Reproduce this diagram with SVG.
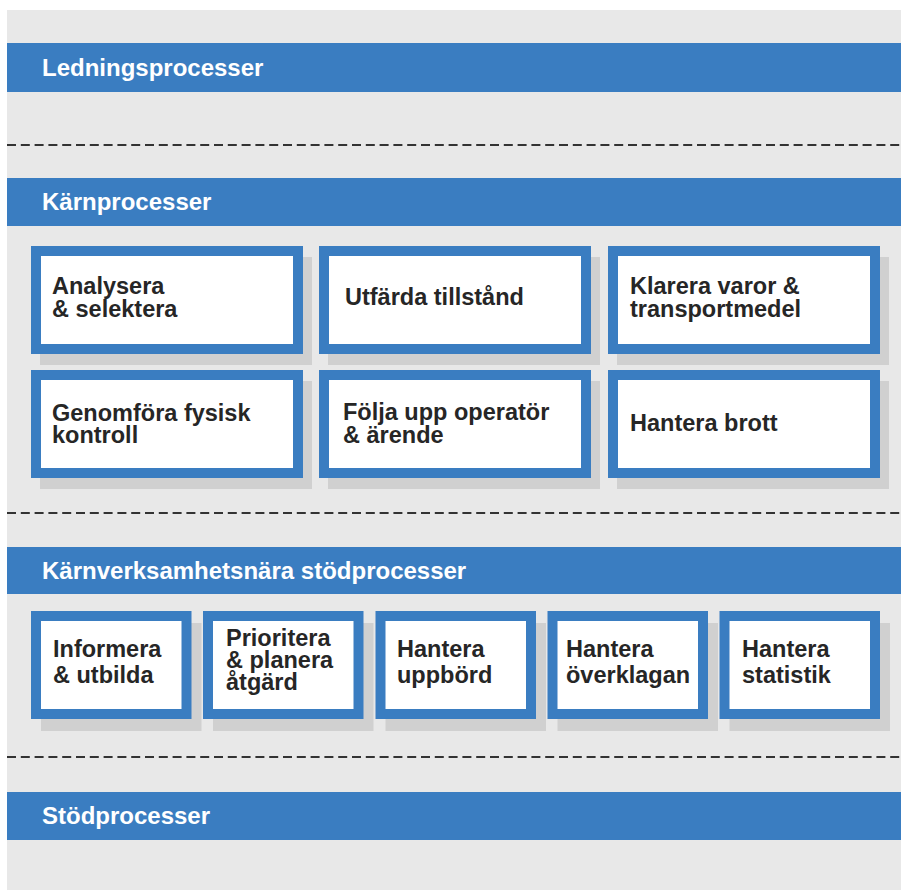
<svg xmlns="http://www.w3.org/2000/svg" width="901" height="890" viewBox="0 0 901 890">
<style>
.bg{fill:#e8e8e8}
.bar{fill:#3a7dc1}
.barEdge{fill:none;stroke:#7fb0dd;stroke-width:1}
.ht{font-family:"Liberation Sans",Arial,sans-serif;font-weight:bold;font-size:24px;fill:#ffffff}
.sh{fill:#d0d0d0}
.box{fill:#ffffff;stroke:#3a7dc1;stroke-width:10}
.bt{font-family:"Liberation Sans",Arial,sans-serif;font-weight:bold;font-size:23.5px;fill:#262626}
.dash{stroke:#333333;stroke-width:2;stroke-dasharray:9 4.8;fill:none}
</style>
<rect x="0" y="0" width="901" height="890" fill="#ffffff"/>
<rect class="bg" x="7" y="10" width="894" height="880"/>

<g id="separators">
<line class="dash" x1="7" y1="145" x2="901" y2="145"/>
<line class="dash" x1="7" y1="513" x2="901" y2="513"/>
<line class="dash" x1="7" y1="757" x2="901" y2="757"/>
</g>

<g id="header-ledning">
<rect class="bar" x="7" y="43" width="894" height="49"/>
<text class="ht" x="42" y="76">Ledningsprocesser</text>
</g>
<g id="header-karn">
<rect class="bar" x="7" y="178" width="894" height="48"/>
<text class="ht" x="42" y="210">Kärnprocesser</text>
</g>
<g id="header-karnnara">
<rect class="bar" x="7" y="547" width="894" height="47"/>
<text class="ht" x="42" y="579">Kärnverksamhetsnära stödprocesser</text>
</g>
<g id="header-stod">
<rect class="bar" x="7" y="792" width="894" height="48"/>
<text class="ht" x="42" y="824">Stödprocesser</text>
</g>

<g id="n-analysera">
<rect class="sh" x="40" y="257" width="272" height="108"/>
<rect class="box" x="36" y="251" width="262" height="98"/>
<text class="bt" x="52" y="294">Analysera</text>
<text class="bt" x="52" y="317">&amp; selektera</text>
</g>
<g id="n-utfarda">
<rect class="sh" x="328" y="257" width="272" height="108"/>
<rect class="box" x="324" y="251" width="262" height="98"/>
<text class="bt" x="345" y="305">Utfärda tillstånd</text>
</g>
<g id="n-klarera">
<rect class="sh" x="617" y="257" width="272" height="108"/>
<rect class="box" x="613" y="251" width="262" height="98"/>
<text class="bt" x="630" y="294">Klarera varor &amp;</text>
<text class="bt" x="630" y="317">transportmedel</text>
</g>
<g id="n-genomfora">
<rect class="sh" x="40" y="381" width="272" height="108"/>
<rect class="box" x="36" y="375" width="262" height="98"/>
<text class="bt" x="52" y="421">Genomföra fysisk</text>
<text class="bt" x="52" y="443">kontroll</text>
</g>
<g id="n-folja">
<rect class="sh" x="328" y="381" width="272" height="108"/>
<rect class="box" x="324" y="375" width="262" height="98"/>
<text class="bt" x="343" y="420">Följa upp operatör</text>
<text class="bt" x="343" y="443">&amp; ärende</text>
</g>
<g id="n-hantera-brott">
<rect class="sh" x="617" y="381" width="272" height="108"/>
<rect class="box" x="613" y="375" width="262" height="98"/>
<text class="bt" x="630" y="431">Hantera brott</text>
</g>

<g id="n-informera">
<rect class="sh" x="41" y="623" width="160.5" height="108"/>
<rect class="box" x="36" y="616" width="150.5" height="98"/>
<text class="bt" x="53" y="657">Informera</text>
<text class="bt" x="53" y="683">&amp; utbilda</text>
</g>
<g id="n-prioritera">
<rect class="sh" x="213" y="623" width="160.5" height="108"/>
<rect class="box" x="208" y="616" width="150.5" height="98"/>
<text class="bt" x="226" y="646">Prioritera</text>
<text class="bt" x="226" y="668">&amp; planera</text>
<text class="bt" x="226" y="690">åtgärd</text>
</g>
<g id="n-uppbord">
<rect class="sh" x="385.5" y="623" width="160.5" height="108"/>
<rect class="box" x="380.5" y="616" width="150.5" height="98"/>
<text class="bt" x="397" y="657">Hantera</text>
<text class="bt" x="397" y="683">uppbörd</text>
</g>
<g id="n-overklagan">
<rect class="sh" x="557.5" y="623" width="160.5" height="108"/>
<rect class="box" x="552.5" y="616" width="150.5" height="98"/>
<text class="bt" x="566" y="657">Hantera</text>
<text class="bt" x="566" y="683">överklagan</text>
</g>
<g id="n-statistik">
<rect class="sh" x="729.5" y="623" width="160.5" height="108"/>
<rect class="box" x="724.5" y="616" width="150.5" height="98"/>
<text class="bt" x="742" y="657">Hantera</text>
<text class="bt" x="742" y="683">statistik</text>
</g>

<g id="connectors"></g>
</svg>
